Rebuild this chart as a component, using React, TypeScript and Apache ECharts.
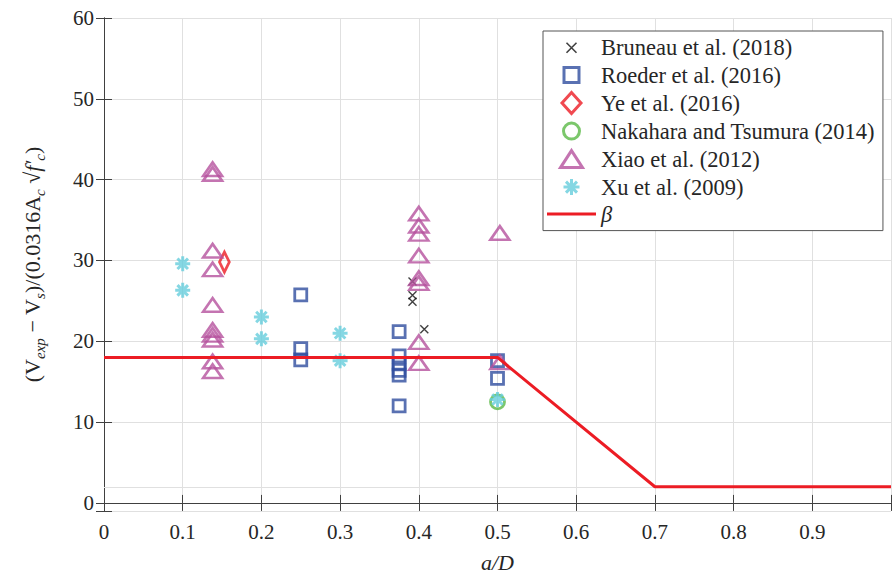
import React, { useEffect, useRef } from 'react';
import * as echarts from 'echarts';

const bruneau = [[0.392, 27.4], [0.392, 25.7], [0.392, 24.9], [0.407, 21.5]];
const roeder = [
  [0.25, 25.75], [0.25, 19.1], [0.25, 17.7],
  [0.375, 21.2], [0.375, 18.2], [0.375, 17.2], [0.375, 16.4], [0.375, 15.8], [0.375, 12.0],
  [0.5, 17.6], [0.5, 15.4],
];
const ye = [[0.153, 29.8]];
const nakahara = [[0.5, 12.5]];
const xiao = [
  [0.138, 41.3], [0.138, 40.7], [0.138, 31.2], [0.138, 28.9], [0.138, 24.5],
  [0.138, 21.4], [0.138, 20.8], [0.138, 20.2], [0.138, 17.5], [0.138, 16.3],
  [0.4, 35.8], [0.4, 34.3], [0.4, 33.3], [0.4, 30.6], [0.4, 27.8], [0.4, 27.2],
  [0.4, 19.9], [0.4, 17.3],
  [0.503, 33.4], [0.503, 17.4],
];
const xu = [[0.1, 29.6], [0.1, 26.3], [0.2, 23.0], [0.2, 20.3], [0.3, 21.0], [0.3, 17.6], [0.5, 12.8]];
const beta = [[0, 18], [0.5, 18], [0.7, 2], [1, 2]];
const betaMin = 2;

const names = [
  'Bruneau et al. (2018)',
  'Roeder et al. (2016)',
  'Ye et al. (2016)',
  'Nakahara and Tsumura (2014)',
  'Xiao et al. (2012)',
  'Xu et al. (2009)',
  'β',
];

const FONT = 'Liberation Serif';
const TXT = '#262626';
const AXIS = '#404040';
const GRID = '#e0e0e0';

// plot marker shapes
const crossPath = 'path://M0,0L10,10M10,0L0,10';
const starPath = 'path://M5,0L5,10M0,5L10,5M1.5,1.5L8.5,8.5M1.5,8.5L8.5,1.5';
const squarePath = 'path://M0,0L10,0L10,10L0,10Z';
const diamondPath = 'path://M7,0L14,10L7,20L0,10Z';
const circlePath = 'path://M10,0A10,10,0,1,1,10,20A10,10,0,1,1,10,0Z';
const trianglePath = 'path://M10,0L20,17L0,17Z';
// legend icon shapes (22px box)
const legendIcons = [
  'path://M0,0M6,6L16,16M16,6L6,16M22,22',
  'path://M0,0M3.5,3.5L18.5,3.5L18.5,18.5L3.5,18.5Z M22,22',
  'path://M0,0M11,0.5L20.5,11L11,21.5L1.5,11Z M22,22',
  'path://M0,0M11,3A8,8,0,1,1,11,19A8,8,0,1,1,11,3Z M22,22',
  'path://M0,0M11,2.5L22,19.5L0,19.5Z M22,22',
  'path://M0,0M11,3L11,19M3,11L19,11M5.5,5.5L16.5,16.5M5.5,16.5L16.5,5.5M22,22',
  'path://M0,0L49,0L49,3L0,3Z',
];
const legendBorders = [1.6, 3, 3, 3, 3, 3, 0];

export default function App() {
  const ref = useRef<HTMLDivElement>(null);
  useEffect(() => {
    if (!ref.current) return;
    const chart = echarts.init(ref.current, undefined, { renderer: 'svg' });
    const hollow = (color: string, w = 2.6) => ({ color: 'rgba(255,255,255,0)', borderColor: color, borderWidth: w });
    chart.setOption({
      animation: false,
      backgroundColor: '#ffffff',
      textStyle: { fontFamily: FONT, color: TXT },
      grid: { left: 104, top: 18, width: 793, height: 494.6 },
      legend: {
        data: names.map((n, i) => ({ name: n, icon: legendIcons[i], itemStyle: { borderWidth: legendBorders[i] } })),
        orient: 'vertical',
        left: 543,
        top: 31,
        padding: [5, 8, 5, 4],
        itemWidth: 49,
        itemHeight: 22,
        itemGap: 3,
        symbolKeepAspect: true,
        borderColor: '#555555',
        borderWidth: 1,
        backgroundColor: '#ffffff',
        textStyle: { fontFamily: FONT, fontSize: 22.5, color: TXT,
          rich: { i: { fontFamily: FONT, fontSize: 22.5, fontStyle: 'italic', color: TXT } } },
        formatter: (n: string) => (n === 'β' ? '{i|β}' : n),
      },
      xAxis: [
        {
          type: 'value', min: 0, max: 1, interval: 0.1,
          name: 'a/D', nameLocation: 'middle', nameGap: 40,
          nameTextStyle: { fontFamily: FONT, fontSize: 22, fontStyle: 'italic', color: TXT },
          axisLine: { lineStyle: { color: AXIS, width: 1 } },
          axisTick: { inside: true, length: 8, lineStyle: { color: AXIS } },
          axisLabel: {
            fontFamily: FONT, fontSize: 21, color: TXT, margin: 10,
            formatter: (v: number) => (v > 0.95 ? '' : String(Number(v.toFixed(1)))),
          },
          splitLine: { show: true, lineStyle: { color: GRID, width: 1 } },
        },
        {
          type: 'value', min: 0, max: 1, interval: 0.1, position: 'top',
          axisLine: { show: true, lineStyle: { color: AXIS, width: 1 } },
          axisTick: { inside: true, length: 8, lineStyle: { color: AXIS } },
          axisLabel: { show: false },
          splitLine: { show: false },
        },
      ],
      yAxis: [
        {
          type: 'value', min: -1, max: 60, minInterval: 10, maxInterval: 10,
          name: '(V{sub|exp} − V{sub|s})/(0.0316A{sub|c} √{it|f′}{sub|c})',
          nameLocation: 'middle', nameGap: 57, nameRotate: 90,
          nameTextStyle: {
            fontFamily: FONT, fontSize: 22, color: TXT, lineHeight: 30,
            rich: {
              sub: { fontFamily: FONT, fontSize: 15, fontStyle: 'italic', color: TXT, verticalAlign: 'bottom', lineHeight: 30 },
              it: { fontFamily: FONT, fontSize: 22, fontStyle: 'italic', color: TXT, lineHeight: 30 },
            },
          },
          axisLine: { show: true, lineStyle: { color: AXIS, width: 1 } },
          axisTick: { inside: true, length: 8, lineStyle: { color: AXIS } },
          axisLabel: {
            fontFamily: FONT, fontSize: 21, color: TXT, margin: 10,
            formatter: (v: number) => (v < 0 ? '' : String(v)),
          },
          splitLine: { show: true, lineStyle: { color: GRID, width: 1 } },
        },
        {
          type: 'value', min: -1, max: 60, minInterval: 10, maxInterval: 10, position: 'right',
          axisLine: { show: true, lineStyle: { color: AXIS, width: 1 } },
          axisTick: { inside: true, length: 8, lineStyle: { color: AXIS } },
          axisLabel: { show: false },
          splitLine: { show: false },
        },
      ],
      series: [
        {
          name: names[0], type: 'scatter', data: bruneau, symbol: crossPath, symbolSize: 8,
          symbolKeepAspect: true,
          itemStyle: { color: 'rgba(0,0,0,0)', borderColor: '#111111', borderWidth: 1.4 },
          markLine: {
            silent: true, symbol: 'none', label: { show: false },
            lineStyle: { color: GRID, width: 1, type: 'solid' },
            data: [{ yAxis: betaMin }],
            z: 1,
          },
          z: 3,
        },
        {
          name: names[1], type: 'scatter', data: roeder, symbol: squarePath, symbolSize: 12,
          symbolKeepAspect: true, itemStyle: hollow('#2f4e9f', 2.8), z: 3,
        },
        {
          name: names[2], type: 'scatter', data: ye, symbol: diamondPath, symbolSize: [14, 20],
          symbolKeepAspect: true, itemStyle: hollow('#ec1c24', 3), z: 3,
        },
        {
          name: names[3], type: 'scatter', data: nakahara, symbol: circlePath, symbolSize: 14,
          symbolKeepAspect: true, itemStyle: hollow('#5ab946', 2.8), z: 3,
        },
        {
          name: names[4], type: 'scatter', data: xiao, symbol: trianglePath, symbolSize: [19, 16],
          symbolKeepAspect: true, itemStyle: hollow('#b5519e', 2.6), z: 3,
        },
        {
          name: names[5], type: 'scatter', data: xu, symbol: starPath, symbolSize: 15,
          symbolKeepAspect: true,
          itemStyle: { color: 'rgba(0,0,0,0)', borderColor: '#66cddc', borderWidth: 3 }, z: 3,
        },
        {
          name: names[6], type: 'line', data: beta, symbol: 'none', showSymbol: false,
          lineStyle: { color: '#ec1c24', width: 3 }, itemStyle: { color: '#ec1c24' }, z: 4,
        },
      ],
    });
    return () => chart.dispose();
  }, []);
  return (
    <div
      ref={ref}
      style={{ position: 'fixed', left: 0, top: 0, width: 894, height: 578, background: '#fff' }}
    />
  );
}
